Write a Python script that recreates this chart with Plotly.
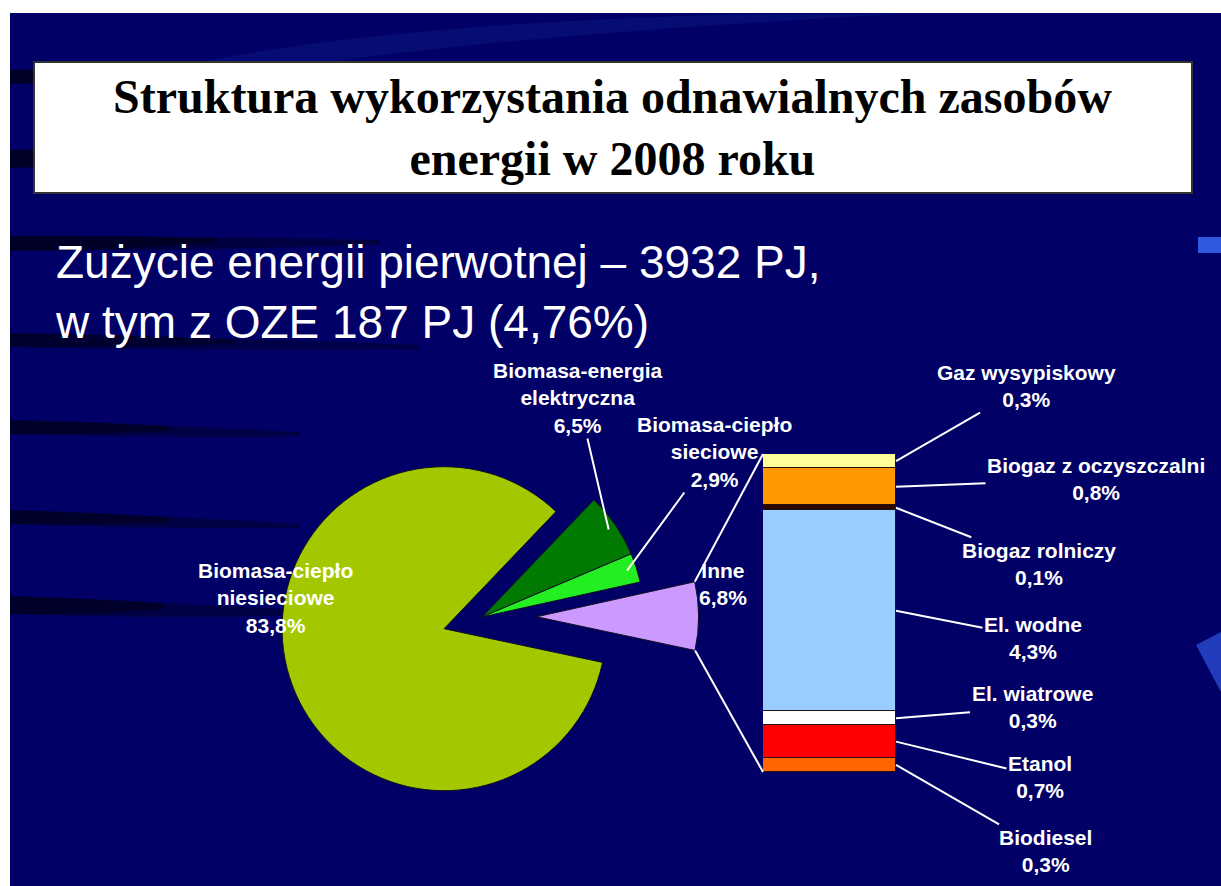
import numpy as np
import plotly.graph_objects as go

W, H = 1221, 886

# ---- data ----
pie_labels = ["Biomasa-ciepło niesieciowe", "Biomasa-energia elektryczna",
              "Biomasa-ciepło sieciowe", "Inne"]
pie_lines = [["Biomasa-ciepło", "niesieciowe"], ["Biomasa-energia", "elektryczna"],
             ["Biomasa-ciepło", "sieciowe"], ["Inne"]]
pie_values = [83.8, 6.5, 2.9, 6.8]

inne_labels = ["Gaz wysypiskowy", "Biogaz z oczyszczalni", "Biogaz rolniczy",
               "El. wodne", "El. wiatrowe", "Etanol", "Biodiesel"]
inne_values = [0.3, 0.8, 0.1, 4.3, 0.3, 0.7, 0.3]

title_lines = ["Struktura wykorzystania odnawialnych zasobów", "energii w 2008 roku"]
subtitle_lines = ["Zużycie energii pierwotnej – 3932 PJ,", "w tym z OZE 187 PJ (4,76%)"]

# ---- styles ----
pie_colors = ["#a3c800", "#007a00", "#22ee22", "#cc99ff"]
bar_colors = ["#ffff99", "#ff9900", "#2a0800", "#99ccff", "#ffffff", "#ff0000", "#ff6600"]
pie_pull = [0.245, 0, 0, 0.337]
pie_rotation = 102
navy = "#000066"
font_sans = "Arial, Liberation Sans, sans-serif"
font_serif = "Times New Roman, Liberation Serif, serif"


def fx(px):
    return px / W


def fy(py):
    return 1 - py / H


def pct(v):
    return f"{v:.1f}".replace(".", ",") + "%"


# pie placement (pixels)
cx, cy, R = 482, 617, 162
half = R * (1 + max(pie_pull))

fig = go.Figure()

fig.add_trace(go.Pie(
    labels=pie_labels, values=pie_values, sort=False, direction="clockwise",
    rotation=pie_rotation, pull=pie_pull, textinfo="none", showlegend=False,
    marker=dict(colors=pie_colors, line=dict(color="#111122", width=1)),
    domain=dict(x=[fx(cx - half), fx(cx + half)], y=[fy(cy + half), fy(cy - half)]),
    hoverinfo="label+percent",
))

for lab, v, col in zip(inne_labels, inne_values, bar_colors):
    fig.add_trace(go.Bar(
        x=[0], y=[v], name=lab, marker=dict(color=col, line=dict(color="#221111", width=1)),
        width=1, showlegend=False, xaxis="x", yaxis="y",
    ))

# slice angles (clockwise from 12 o'clock), same as plotly draws them
total = sum(pie_values)
starts = pie_rotation + 360 * np.concatenate([[0], np.cumsum(pie_values)[:-1]]) / total
ends = starts + 360 * np.array(pie_values) / total
mids = (starts + ends) / 2


def pie_point(i, ang, frac):
    a = np.radians(ang)
    b = np.radians(mids[i])
    x = cx + pie_pull[i] * R * np.sin(b) + frac * R * np.sin(a)
    y = cy - pie_pull[i] * R * np.cos(b) - frac * R * np.cos(a)
    return x, y


def streak(x0, x1, yl, yr, thick, alpha):
    # soft dark swoosh of the slide background, fading to the right
    out = []
    for xe, a in [(x1, alpha * 0.45), (x0 + (x1 - x0) * 0.55, alpha * 0.55)]:
        xm = (x0 + xe) / 2
        ye = yl + (yr - yl) * (xe - x0) / (x1 - x0)
        ym = (yl + ye) / 2 - 2
        out.append(dict(
            type="path", xref="paper", yref="paper", layer="below", line=dict(width=0),
            fillcolor=f"rgba(0,0,12,{a:.2f})",
            path=(f"M {fx(x0)} {fy(yl)} Q {fx(xm)} {fy(ym)} {fx(xe)} {fy(ye)} "
                  f"L {fx(xe)} {fy(ye + thick * 0.3)} Q {fx(xm)} {fy(ym + thick)} "
                  f"{fx(x0)} {fy(yl + thick)} Z")))
    return out


bar_x0, bar_x1, bar_top, bar_bot = 763, 896, 454, 772

shapes = [
    # slide background (white margin top / left)
    dict(type="rect", xref="paper", yref="paper", x0=fx(10), x1=1, y0=0, y1=fy(13),
         fillcolor=navy, line=dict(width=0), layer="below"),
]
shapes += streak(10, 160, 70, 72, 14, 0.9)
shapes += streak(10, 160, 150, 152, 18, 0.9)
shapes += streak(10, 380, 236, 240, 15, 0.9)
shapes += streak(10, 420, 333, 345, 14, 0.75)
shapes += streak(10, 300, 420, 432, 14, 0.8)
shapes += streak(10, 300, 510, 524, 14, 0.8)
shapes += streak(10, 290, 596, 610, 18, 0.85)
shapes += [
    dict(type="path", xref="paper", yref="paper", layer="below", line=dict(width=0),
         fillcolor="rgba(30,60,170,0.2)",
         path=(f"M {fx(200)} {fy(62)} Q {fx(400)} {fy(22)} {fx(760)} {fy(14)} "
               f"L {fx(900)} {fy(14)} Q {fx(520)} {fy(35)} {fx(330)} {fy(62)} Z")),
    dict(type="rect", xref="paper", yref="paper", x0=fx(1198), x1=1, y0=fy(253), y1=fy(237),
         fillcolor="rgba(60,110,255,0.8)", line=dict(width=0), layer="below"),
    dict(type="path", xref="paper", yref="paper", layer="below", line=dict(width=0),
         fillcolor="rgba(60,110,255,0.55)",
         path=f"M {fx(1196)} {fy(645)} L {fx(1221)} {fy(632)} L {fx(1221)} {fy(692)} Z"),
    # title box
    dict(type="rect", xref="paper", yref="paper", x0=fx(34), x1=fx(1192), y0=fy(193), y1=fy(62),
         fillcolor="white", line=dict(color="#333333", width=2)),
]

# bar-of-pie connectors from the "Inne" slice corners to the bar
for ang, by in [(starts[3], bar_top), (ends[3], bar_bot)]:
    px_, py_ = pie_point(3, ang, 1.0)
    shapes.append(dict(type="line", xref="paper", yref="paper",
                       x0=fx(px_), y0=fy(py_), x1=fx(bar_x0), y1=fy(by),
                       line=dict(color="white", width=2)))

annotations = [
    dict(text="<b>" + "<br>".join(title_lines) + "</b>", x=fx(612), y=fy(128),
         xref="paper", yref="paper", showarrow=False, xanchor="center", yanchor="middle",
         font=dict(family=font_serif, size=48, color="black")),
    dict(text="<br>".join(subtitle_lines), x=fx(53), y=fy(292), align="left",
         xref="paper", yref="paper", showarrow=False, xanchor="left", yanchor="middle",
         font=dict(family=font_sans, size=46, color="white")),
]

lab_font = dict(family=font_sans, size=21, color="white")

# pie labels: (text center px, arrow target fraction of radius or None)
pie_label_pos = [(196, 639, None), (578, 398, 0.95), (714, 452, 0.94), (723, 611, None)]
for i, (tx, ty, frac) in enumerate(pie_label_pos):
    txt = "<b>" + "<br>".join(pie_lines[i] + [pct(pie_values[i])]) + "</b>"
    if frac is None:
        annotations.append(dict(text=txt, x=fx(tx), y=fy(ty), xref="paper", yref="paper",
                                showarrow=False, font=lab_font, align="center"))
    else:
        px_, py_ = pie_point(i, mids[i], frac)
        annotations.append(dict(text=txt, x=fx(px_), y=fy(py_), xref="paper", yref="paper",
                                showarrow=True, ax=tx - px_, ay=ty - py_, arrowhead=0,
                                arrowwidth=2, arrowcolor="white", font=lab_font, align="center"))

# bar labels, offsets in px from the bar's right edge at the segment middle
bar_label_off = [(130, -75), (200, -8), (143, 56), (137, 27), (136, -11), (144, 35), (149, 86)]
cum = np.concatenate([[0], np.cumsum(inne_values)[:-1]])
for lab, v, c0, (ox, oy) in zip(inne_labels, inne_values, cum, bar_label_off):
    annotations.append(dict(text=f"<b>{lab}<br>{pct(v)}</b>", x=0.5, y=c0 + v / 2,
                            xref="x", yref="y", showarrow=True, ax=ox, ay=oy,
                            arrowhead=0, arrowwidth=2, arrowcolor="white",
                            font=lab_font, align="center"))

fig.update_layout(
    width=W, height=H, margin=dict(l=0, r=0, t=0, b=0),
    paper_bgcolor="white", plot_bgcolor="rgba(0,0,0,0)",
    barmode="stack", bargap=0,
    xaxis=dict(domain=[fx(bar_x0), fx(bar_x1)], range=[-0.5, 0.5], visible=False),
    yaxis=dict(domain=[fy(bar_bot), fy(bar_top)], range=[sum(inne_values), 0], visible=False),
    shapes=shapes, annotations=annotations,
)

# the slide fills the whole page: drop the default body margin
fig.write_html("out.html", config={"displayModeBar": False},
               post_script="document.body.style.margin='0';document.body.style.overflow='hidden';")
